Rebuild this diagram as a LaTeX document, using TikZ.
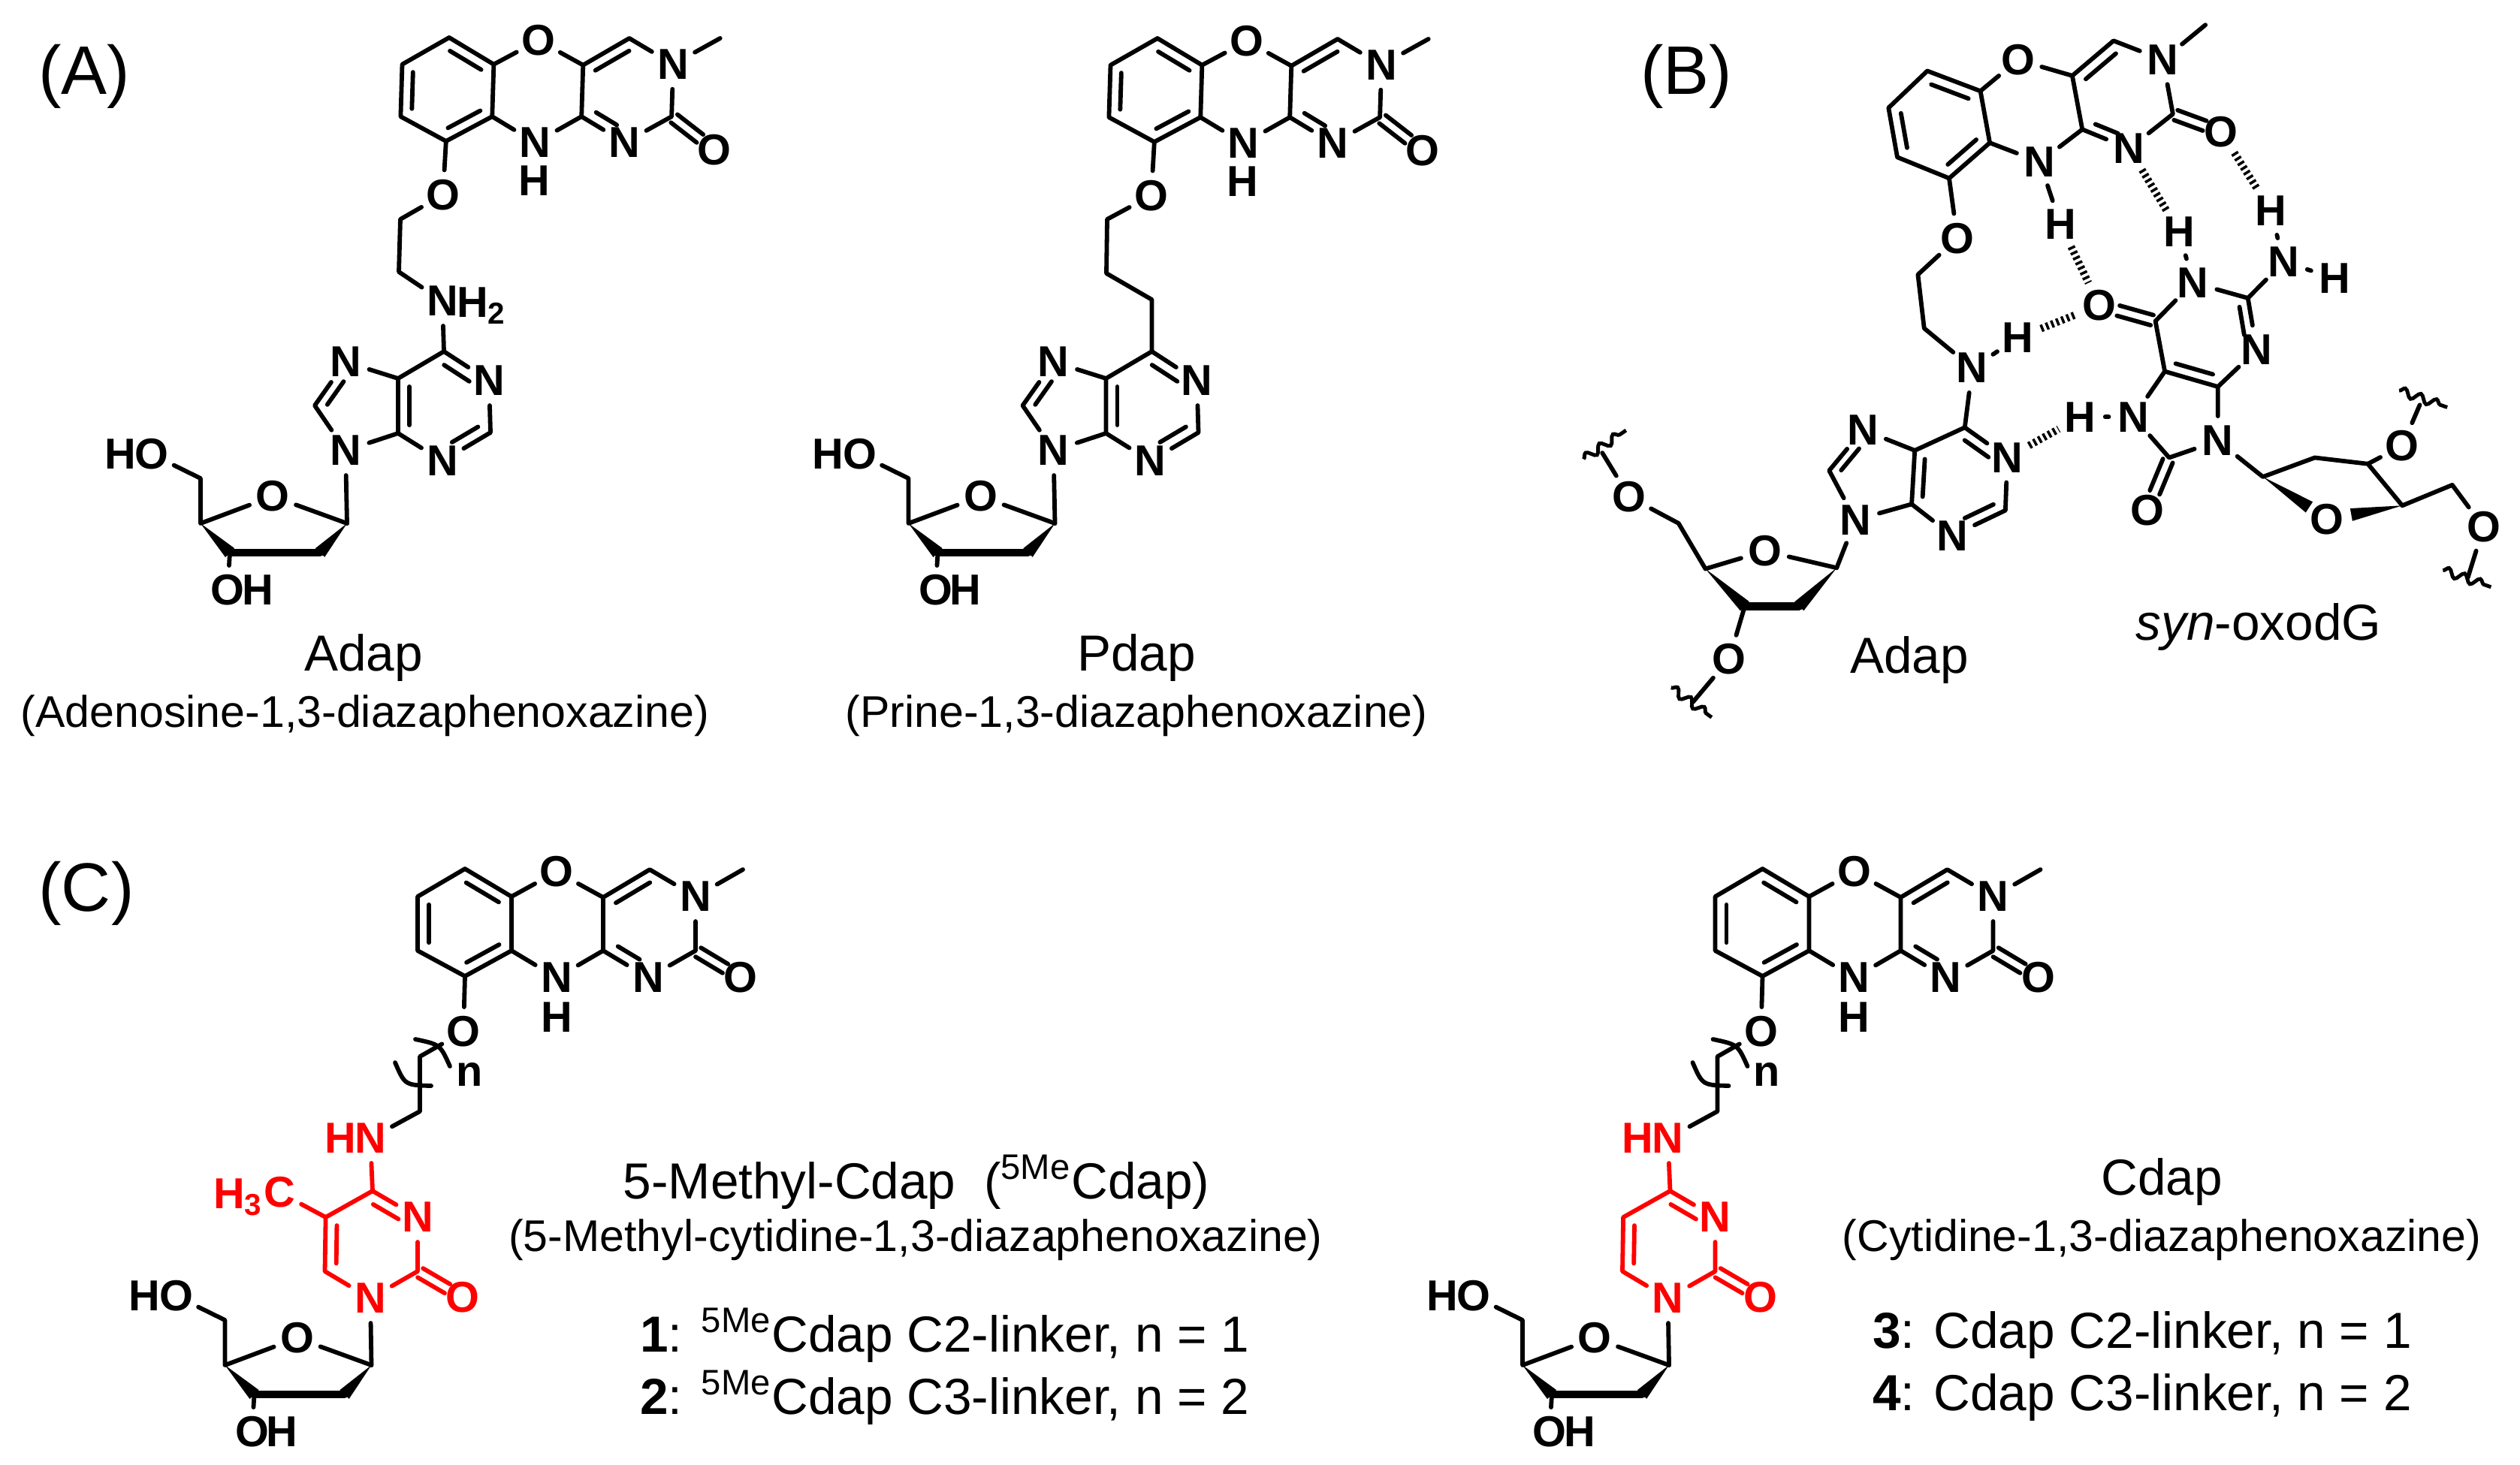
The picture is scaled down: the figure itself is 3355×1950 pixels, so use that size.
\documentclass[tikz,border=0pt]{standalone}
\usepackage{fontspec}
\setmainfont{Liberation Sans}
\usetikzlibrary{calc,decorations.pathmorphing}
\tikzset{
  bond/.style={line width=1.65pt,line cap=round,line join=round},
  heavybond/.style={line width=3.1pt,line cap=round},
  hbond/.style={line width=2.8pt,dash pattern=on 1pt off 1.1pt},
  wavy/.style={line width=1.4pt,decorate,decoration={snake,segment length=2.2mm,amplitude=.55mm}},
  atom/.style={circle,inner sep=0pt,outer sep=0pt,minimum size=.66cm,font=\fontsize{16.4}{20}\selectfont\bfseries},
  atomsub/.style={inner sep=0pt,outer sep=0pt,font=\fontsize{16.4}{20}\selectfont\bfseries},
  panel/.style={inner sep=0pt,font=\fontsize{26}{30}\selectfont},
  title/.style={inner sep=0pt,font=\fontsize{19.2}{23}\selectfont},
  subtitle/.style={inner sep=0pt,font=\fontsize{16.8}{20}\selectfont},
  subring/.style={shift={#1},xscale=.975,yscale=.965,xslant=.03},
}
\newcommand{\dbl}[5]{\draw[bond] ($(#1)!#3!(#2)!#5!90:(#2)$) -- ($(#1)!#4!(#2)!#5!90:(#2)$);}
\newcommand{\dbo}[2]{\dbl{#1}{#2}{.06}{.66}{.7mm}\dbl{#2}{#1}{.34}{.94}{.7mm}}
\newcommand{\wdg}[4]{\coordinate (wd) at ($(#1)!#3!(#2)$);
  \fill (#1) -- ($(wd)!#4!90:(#1)$) -- ($(wd)!#4!-90:(#1)$) -- cycle;}
\newcommand{\tricyc}[1][145]{%
  \coordinate (c1) at (0,0); \coordinate (c2) at (62,37); \coordinate (c3) at (62,109);
  \coordinate (c4) at (0,143); \coordinate (c5) at (-63,109); \coordinate (c6) at (-63,37);
  \coordinate (c7) at (184,38); \coordinate (c8) at (184,109); \coordinate (c9) at (246,1);
  \coordinate (c10) at (307,109); \coordinate (me) at (370,1);
  \node[atom] (o1) at (122,4) {O};
  \node[atom] (n10) at (122,145) {N};
  \node[atom] (h10) at (122,198) {H};
  \node[atom] (n3) at (307,37) {N};
  \node[atom] (n1) at (244,145) {N};
  \node[atom] (o2) at (367,#1) {O};
  \node[atom] (lo) at (-2,217) {O};
  \draw[bond] (c1) -- (c2) -- (c3) -- (c4) -- (c5) -- (c6) -- (c1);
  \draw[bond] (c2) -- (o1) -- (c7) -- (c9) -- (n3) -- (c10) -- (n1) -- (c8) -- (c7);
  \draw[bond] (c3) -- (n10) -- (c8);
  \draw[bond] (n3) -- (me);
  \draw[bond] (c4) -- (lo);
  \dbl{c2}{c1}{.15}{.85}{1.5mm}
  \dbl{c4}{c3}{.15}{.85}{1.5mm}
  \dbl{c6}{c5}{.15}{.85}{1.5mm}
  \dbl{c9}{c7}{.12}{.85}{1.5mm}
  \dbl{c8}{n1}{.2}{.68}{1.5mm}
  \dbo{c10}{o2}
}
\newcommand{\sugar}{%
  \coordinate (s1) at (0,0); \coordinate (s2) at (-36,39); \coordinate (s3) at (-156,39);
  \coordinate (s4) at (-195,0); \coordinate (s5) at (-195,-60);
  \node[atom] (so) at (-99,-36) {O};
  \node[atom] (o5) at (-260,-92) {O};
  \node[atom] (h5) at (-302,-92) {H};
  \node[atom] (o3) at (-159,89) {O};
  \node[atom] (h3) at (-119,89) {H};
  \draw[bond] (s1) -- (so) -- (s4) -- (s5) -- (o5);
  \draw[bond] (s3) -- (o3);
  \draw[heavybond] (s3) -- (s2);
  \wdg{s4}{s3}{1}{.85mm}
  \wdg{s1}{s2}{1}{.85mm}
}
\newcommand{\purine}{%
  \coordinate (p6) at (0,0); \coordinate (p2) at (62,108); \coordinate (p4) at (-61,109);
  \coordinate (p5) at (-61,36); \coordinate (p8) at (-172,72);
  \node[atom] (p1) at (60,39) {N};
  \node[atom] (p3) at (-2,146) {N};
  \node[atom] (p7) at (-131,14) {N};
  \node[atom] (p9) at (-131,132) {N};
  \draw[bond] (p6) -- (p1) -- (p2) -- (p3) -- (p4) -- (p5) -- (p6);
  \draw[bond] (p5) -- (p7) -- (p8) -- (p9) -- (p4);
  \dbl{p1}{p6}{.3}{.86}{1.5mm}
  \dbl{p3}{p2}{.32}{.86}{1.5mm}
  \dbl{p5}{p4}{.15}{.85}{1.5mm}
  \dbl{p7}{p8}{.32}{.85}{1.3mm}
  \begin{scope}[shift={(-129,229)}]\sugar\end{scope}
  \draw[bond] (p9) -- (s1);
}
\newcommand{\cdapbase}{%
  \begin{scope}[shift={(619,1157)}]\tricyc\end{scope}
  \coordinate (l1) at (559,1407); \coordinate (l2) at (559,1480);
  \draw[bond] (553,1384) .. controls (586,1391) .. (599,1420);
  \draw[bond] (526,1415) .. controls (539,1445) .. (574,1446);
  \node[atomsub] (nn) at (625,1431) {n};
  \begin{scope}[red]
    \coordinate (r4) at (496,1586); \coordinate (r2) at (556,1693);
    \coordinate (r6) at (432.5,1693); \coordinate (r5) at (433.6,1621);
    \node[atom] (rn) at (493,1516) {N};
    \node[atom] (rh) at (453,1516) {H};
    \node[atom] (r3) at (556,1621) {N};
    \node[atom] (r1) at (493,1729) {N};
    \node[atom] (ro) at (616,1728) {O};
    \draw[bond] (rn) -- (r4) -- (r3) -- (r2) -- (r1) -- (r6) -- (r5) -- (r4);
    \dbl{r3}{r4}{.3}{.86}{1.5mm}
    \dbl{r5}{r6}{.15}{.85}{1.5mm}
    \dbo{r2}{ro}
  \end{scope}
  \draw[bond] (lo) -- (l1) -- (l2) -- (rn);
  \begin{scope}[shift={(494.5,1818)}]\sugar\end{scope}
  \draw[bond] (r1) -- (s1);
}
\begin{document}
\begin{tikzpicture}[x=0.01cm,y=-0.01cm]
\useasboundingbox (0,0) rectangle (3355,1950);

\node[panel] (lblA) at (112,102) {(A)};
\node[panel] (lblB) at (2245,102) {(B)};
\node[panel] (lblC) at (115,1190) {(C)};

% Adap
\begin{scope}[name prefix=a-]
  \begin{scope}[subring={(598,50)}]\tricyc[155]\end{scope}
  \coordinate (l1) at (533,292); \coordinate (l2) at (531,362);
  \node[atom] (l3) at (589,401) {N};
  \node[atomsub,anchor=base west] (l3h) at (608,422) {H\textsubscript{2}};
  \begin{scope}[shift={(591,468)}]\purine\end{scope}
  \draw[bond] (lo) -- (l1) -- (l2) -- (l3) -- (p6);
\end{scope}
\node[title] (nameA) at (484,876) {Adap};
\node[subtitle] (fullA) at (486,953) {(Adenosine-1,3-diazaphenoxazine)};

% Pdap
\begin{scope}[name prefix=p-]
  \begin{scope}[subring={(1541,51)}]\tricyc[155]\end{scope}
  \coordinate (l1) at (1474,292); \coordinate (l2) at (1473,364); \coordinate (l3) at (1533.5,399);
  \begin{scope}[shift={(1533.5,468)}]\purine\end{scope}
  \draw[bond] (lo) -- (l1) -- (l2) -- (l3) -- (p6);
\end{scope}
\node[title] (nameP) at (1513,876) {Pdap};
\node[subtitle] (fullP) at (1513,953) {(Prine-1,3-diazaphenoxazine)};

% base pair
\begin{scope}[shift={(2050,0)},x=0.00832cm,y=-0.00638cm,name prefix=b-]
  \coordinate (c1) at (620,148); \coordinate (c2) at (705,190); \coordinate (c3) at (720,298);
  \coordinate (c4) at (655,372); \coordinate (c5) at (572,328); \coordinate (c6) at (558,225);
  \coordinate (c7) at (852,158); \coordinate (c8) at (868,270); \coordinate (c9) at (918,85);
  \coordinate (c10) at (1013,238); \coordinate (me) at (1065,52);
  \node[atom] (o1) at (765,125) {O};
  \node[atom] (n10) at (800,338) {N};
  \node[atom] (h10) at (833,468) {H};
  \node[atom] (n3) at (997,125) {N};
  \node[atom] (n1) at (943,310) {N};
  \node[atom] (o2) at (1090,275) {O};
  \node[atom] (lo) at (668,497) {O};
  \draw[bond] (c1) -- (c2) -- (c3) -- (c4) -- (c5) -- (c6) -- (c1);
  \draw[bond] (c2) -- (o1) -- (c7) -- (c9) -- (n3) -- (c10) -- (n1) -- (c8) -- (c7);
  \draw[bond] (c3) -- (n10) -- (c8);
  \draw[bond] (n3) -- (me);
  \draw[bond] (n10) -- (h10);
  \dbl{c2}{c1}{.15}{.85}{1.5mm}
  \dbl{c4}{c3}{.15}{.85}{1.5mm}
  \dbl{c6}{c5}{.15}{.85}{1.5mm}
  \dbl{c9}{c7}{.12}{.85}{1.5mm}
  \dbl{c8}{n1}{.2}{.68}{1.3mm}
  \dbo{c10}{o2}
  % linker and adenine
  \coordinate (l1) at (605,573); \coordinate (l2) at (615,685);
  \node[atom] (l3) at (692,768) {N};
  \node[atom] (l3h) at (765,705) {H};
  \coordinate (p6) at (680,892); \coordinate (p2) at (745,1065); \coordinate (p4) at (595,1052);
  \coordinate (p5) at (600,940); \coordinate (p8) at (463,982);
  \node[atom] (p1) at (748,955) {N};
  \node[atom] (p3) at (660,1118) {N};
  \node[atom] (p7) at (517,897) {N};
  \node[atom] (p9) at (505,1085) {N};
  \draw[bond] (c4) -- (lo) -- (l1) -- (l2) -- (l3) -- (p6);
  \draw[bond] (l3) -- (l3h);
  \draw[bond] (p6) -- (p1) -- (p2) -- (p3) -- (p4) -- (p5) -- (p6);
  \draw[bond] (p5) -- (p7) -- (p8) -- (p9) -- (p4);
  \dbl{p1}{p6}{.3}{.86}{1.4mm}
  \dbl{p3}{p2}{.32}{.86}{1.4mm}
  \dbl{p5}{p4}{.15}{.85}{1.4mm}
  \dbl{p7}{p8}{.32}{.85}{1.2mm}
  \coordinate (s1) at (475,1185); \coordinate (s2) at (415,1265); \coordinate (s3) at (328,1265);
  \coordinate (s4) at (265,1187); \coordinate (s5) at (222,1092);
  \node[atom] (so) at (360,1150) {O};
  \node[atom] (o5) at (143,1037) {O};
  \node[atom] (o3) at (303,1375) {O};
  \coordinate (w5) at (100,945); \coordinate (w5a) at (70,958); \coordinate (w5b) at (138,898);
  \coordinate (w3) at (245,1465); \coordinate (w3a) at (210,1435); \coordinate (w3b) at (275,1497);
  \draw[bond] (p9) -- (s1) -- (so) -- (s4) -- (s5) -- (o5) -- (w5);
  \draw[bond] (s3) -- (o3) -- (w3);
  \draw[heavybond] (s3) -- (s2);
  \wdg{s4}{s3}{1}{.85mm}
  \wdg{s1}{s2}{1}{.85mm}
  \draw[wavy] (w5a) -- (w5b);
  \draw[wavy] (w3a) -- (w3b);
  % oxoguanine
  \node[atom] (g6o) at (895,637) {O};
  \coordinate (g6) at (985,670); \coordinate (g2) at (1133,622); \coordinate (g4) at (1085,807);
  \coordinate (g5) at (1000,775); \coordinate (g8) at (1007,955);
  \node[atom] (g1) at (1045,590) {N};
  \node[atom] (g1h) at (1023,483) {H};
  \node[atom] (g2n) at (1190,547) {N};
  \node[atom] (g2h) at (1272,580) {H};
  \node[atom] (g2i) at (1170,440) {H};
  \node[atom] (g3) at (1147,730) {N};
  \node[atom] (g7) at (950,870) {N};
  \node[atom] (g7h) at (865,870) {H};
  \node[atom] (g8o) at (972,1065) {O};
  \node[atom] (g9) at (1085,920) {N};
  \draw[bond] (g6) -- (g1) -- (g2) -- (g3) -- (g4) -- (g5) -- (g6);
  \draw[bond] (g5) -- (g7) -- (g8) -- (g9) -- (g4);
  \draw[bond] (g1) -- (g1h);
  \draw[bond] (g2) -- (g2n) -- (g2h);
  \draw[bond] (g2n) -- (g2i);
  \draw[bond] (g7) -- (g7h);
  \dbl{g3}{g2}{.32}{.86}{1.3mm}
  \dbl{g5}{g4}{.15}{.85}{1.4mm}
  \dbo{g6}{g6o}
  \dbo{g8}{g8o}
  \coordinate (t1) at (1157,995); \coordinate (t2) at (1240,955); \coordinate (t3) at (1325,968);
  \coordinate (t4) at (1380,1055); \coordinate (t5) at (1460,1012);
  \node[atom] (to) at (1260,1083) {O};
  \node[atom] (t3o) at (1380,930) {O};
  \node[atom] (t5o) at (1510,1100) {O};
  \coordinate (w6) at (1408,845); \coordinate (w6a) at (1375,815); \coordinate (w6b) at (1452,850);
  \coordinate (w7) at (1485,1205); \coordinate (w7a) at (1445,1190); \coordinate (w7b) at (1522,1225);
  \draw[bond] (g9) -- (t1) -- (t2) -- (t3) -- (t4) -- (t5) -- (t5o) -- (w7);
  \draw[bond] (t3) -- (t3o) -- (w6);
  \wdg{t1}{to}{.72}{.85mm}
  \wdg{t4}{to}{.68}{.85mm}
  \draw[wavy] (w6a) -- (w6b);
  \draw[wavy] (w7a) -- (w7b);
  % hydrogen bonds
  \draw[hbond] (o2) -- (g2i);
  \draw[hbond] (n1) -- (g1h);
  \draw[hbond] (h10) -- (g6o);
  \draw[hbond] (l3h) -- (g6o);
  \draw[hbond] (p1) -- (g7h);
\end{scope}
\node[title] (nameB) at (2542,879) {Adap};
\node[title] (nameG) at (3007,835) {\textit{syn}-oxodG};

% 5MeCdap
\begin{scope}[name prefix=m-]
  \cdapbase
  \begin{scope}[red]
    \node[atom] (mc) at (372,1588) {C};
    \node[atomsub,anchor=base east] (mh) at (350,1609) {H\textsubscript{3}};
    \draw[bond] (r5) -- (mc);
  \end{scope}
\end{scope}
\node[title] (nameM) at (1220,1574) {5-Methyl-Cdap\ \ (\textsuperscript{5Me}Cdap)};
\node[subtitle] (fullM) at (1219,1651) {(5-Methyl-cytidine-1,3-diazaphenoxazine)};
\node[title] (cmp1) at (1258,1778) {\textbf{1}: \textsuperscript{5Me}Cdap C2-linker, n = 1};
\node[title] (cmp2) at (1258,1861) {\textbf{2}: \textsuperscript{5Me}Cdap C3-linker, n = 2};

% Cdap
\begin{scope}[shift={(1727.5,0)},name prefix=d-]
  \cdapbase
\end{scope}
\node[title] (nameC) at (2878,1574) {Cdap};
\node[subtitle] (fullC) at (2878,1651) {(Cytidine-1,3-diazaphenoxazine)};
\node[title] (cmp3) at (2852,1778) {\textbf{3}: Cdap C2-linker, n = 1};
\node[title] (cmp4) at (2852,1861) {\textbf{4}: Cdap C3-linker, n = 2};
\end{tikzpicture}
\end{document}
